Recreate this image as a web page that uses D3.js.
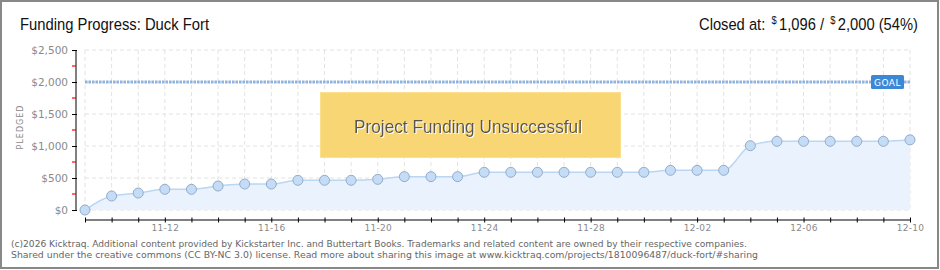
<!DOCTYPE html>
<html>
<head>
<meta charset="utf-8">
<script src="https://cdn.jsdelivr.net/npm/d3@7"></script>
<style>
  body { margin: 0; background: #fff; }
  svg { display: block; }
</style>
</head>
<body>
<div id="chart"></div>
<script>
// funding data, one point per day
const days = ['11-09','11-10','11-11','11-12','11-13','11-14','11-15','11-16',
  '11-17','11-18','11-19','11-20','11-21','11-22','11-23','11-24','11-25','11-26',
  '11-27','11-28','11-29','11-30','12-01','12-02','12-03','12-04','12-05','12-06',
  '12-07','12-08','12-09','12-10'];
const pledged = [0, 219, 265, 323, 323, 375, 406, 406, 464, 464, 464, 479, 521, 521,
  521, 589, 589, 589, 589, 589, 589, 589, 620, 620, 620, 1005, 1073, 1073, 1073,
  1073, 1073, 1096];
const tickDays = ['11-12', '11-16', '11-20', '11-24', '11-28', '12-02', '12-06', '12-10'];
const yTicks = [0, 500, 1000, 1500, 2000, 2500];
const yMinorTicks = [250, 750, 1250, 1750, 2250];
const goal = 2000;
const closedAt = 1096;

const width = 940, height = 270;
const margin = {top: 50, right: 30, bottom: 60, left: 85};
const innerW = 910 - margin.left;
const innerH = 210 - margin.top;

const headFont = '"Liberation Sans", Arial, sans-serif';

const svg = d3.select('#chart').append('svg')
  .attr('width', width)
  .attr('height', height);

// outer frame
svg.append('rect')
  .attr('x', 1).attr('y', 1)
  .attr('width', 937).attr('height', 267)
  .attr('fill', 'none')
  .attr('stroke', '#888')
  .attr('stroke-width', 2);

// header
svg.append('text')
  .attr('x', 20).attr('y', 30)
  .attr('textLength', 189)
  .attr('lengthAdjust', 'spacingAndGlyphs')
  .style('font-family', headFont)
  .style('font-size', '16.5px')
  .attr('fill', '#111')
  .text('Funding Progress: Duck Fort');

// "Closed at: $1,096 / $2,000 (54%)" built piece by piece, small raised dollar signs,
// the whole group squeezed horizontally to match the narrow original font
const closedParts = [
  {t: 'Closed at:', size: 16.5, dy: 0, gap: 7},
  {t: '$', size: 10.5, dy: -6, gap: 2.5},
  {t: d3.format(',')(closedAt) + ' /', size: 16.5, dy: 0, gap: 7},
  {t: '$', size: 10.5, dy: -6, gap: 2.5},
  {t: d3.format(',')(goal) + ' (' + Math.floor(closedAt / goal * 100) + '%)', size: 16.5, dy: 0, gap: 0}
];
const closedG = svg.append('g');
let cx = 0;
closedParts.forEach(p => {
  const t = closedG.append('text')
    .attr('x', cx)
    .attr('y', 30 + p.dy)
    .style('font-family', headFont)
    .style('font-size', p.size + 'px')
    .attr('fill', '#111')
    .text(p.t);
  cx += t.node().getComputedTextLength() + p.gap;
});
const squeeze = 219 / cx;
closedG.attr('transform', `translate(699, 0) scale(${squeeze}, 1)`);

const g = svg.append('g')
  .attr('transform', `translate(${margin.left}, ${margin.top})`);

const x = d3.scalePoint().domain(days).range([0, innerW]);
const y = d3.scaleLinear().domain([0, 2500]).range([innerH, 0]);

// grid
g.append('g').selectAll('line')
  .data(days)
  .join('line')
  .attr('x1', d => x(d)).attr('x2', d => x(d))
  .attr('y1', 0).attr('y2', innerH)
  .attr('stroke', '#e2e2e2')
  .attr('stroke-dasharray', '4,3');

g.append('g').selectAll('line')
  .data(yTicks)
  .join('line')
  .attr('x1', 0).attr('x2', innerW)
  .attr('y1', d => y(d)).attr('y2', d => y(d))
  .attr('stroke', '#e2e2e2')
  .attr('stroke-dasharray', '4,3');

// goal line
g.append('line')
  .attr('x1', 0).attr('x2', innerW)
  .attr('y1', y(goal)).attr('y2', y(goal))
  .attr('stroke', '#8fb3dd')
  .attr('stroke-width', 3)
  .attr('stroke-dasharray', '2.5,1');

const goalLabel = g.append('g')
  .attr('transform', `translate(${innerW - 39}, ${y(goal) - 7})`);
goalLabel.append('rect')
  .attr('width', 33).attr('height', 14)
  .attr('rx', 1.5)
  .attr('fill', '#3d87d7');
goalLabel.append('text')
  .attr('x', 16.5).attr('y', 10.5)
  .attr('text-anchor', 'middle')
  .style('font-family', '"DejaVu Sans", sans-serif')
  .style('font-size', '9px')
  .style('letter-spacing', '0.5px')
  .attr('fill', '#fff')
  .text('GOAL');

// area + line
const series = days.map((d, i) => ({day: d, value: pledged[i]}));

g.append('path')
  .datum(series)
  .attr('fill', '#eaf3fd')
  .attr('d', d3.area()
    .x(d => x(d.day))
    .y0(innerH)
    .y1(d => y(d.value))
    .curve(d3.curveMonotoneX));

g.append('path')
  .datum(series)
  .attr('fill', 'none')
  .attr('stroke', '#b9d6f4')
  .attr('stroke-width', 1.5)
  .attr('d', d3.line()
    .x(d => x(d.day))
    .y(d => y(d.value))
    .curve(d3.curveMonotoneX));

g.append('g').selectAll('circle')
  .data(series)
  .join('circle')
  .attr('cx', d => x(d.day))
  .attr('cy', d => y(d.value))
  .attr('r', 5)
  .attr('fill', '#c4dcf6')
  .attr('stroke', '#93abc9')
  .attr('stroke-width', 1);

// y axis
const yAxis = g.append('g')
  .attr('transform', 'translate(-9, 0)')
  .call(d3.axisLeft(y).tickValues(yTicks)
    .tickFormat(d => '$' + d3.format(',')(d))
    .tickSize(4).tickPadding(4));
yAxis.select('.domain').attr('stroke', '#000').attr('d', `M0,${y(2500)}V${innerH}`);
yAxis.selectAll('.tick line').attr('stroke', '#000').attr('x2', -4).attr('x1', 1);
yAxis.selectAll('.tick text')
  .style('font-family', '"DejaVu Sans", sans-serif')
  .style('font-size', '10.5px')
  .attr('fill', '#8a8a8a');

yAxis.selectAll('.minor')
  .data(yMinorTicks)
  .join('line')
  .attr('class', 'minor')
  .attr('x1', -4).attr('x2', 0)
  .attr('y1', d => y(d)).attr('y2', d => y(d))
  .attr('stroke', '#ff0000')
  .attr('stroke-width', 1.2);

svg.append('text')
  .attr('transform', 'translate(23, 127) rotate(-90)')
  .attr('text-anchor', 'middle')
  .style('font-family', '"DejaVu Sans", sans-serif')
  .style('font-size', '8px')
  .style('letter-spacing', '1px')
  .attr('fill', '#8a8a8a')
  .text('PLEDGED');

// x axis
const xAxis = g.append('g')
  .attr('transform', `translate(0, ${innerH + 10})`)
  .call(d3.axisBottom(x).tickSize(0).tickFormat(d => tickDays.includes(d) ? d : ''));
xAxis.select('.domain').attr('stroke', '#000').attr('d', `M0,0H${innerW}`);
xAxis.selectAll('.tick line')
  .attr('stroke', '#000')
  .attr('y1', -2.5).attr('y2', 2.5);
xAxis.selectAll('.tick text')
  .attr('y', 5)
  .attr('dy', '0.71em')
  .style('font-family', '"DejaVu Sans", sans-serif')
  .style('font-size', '9px')
  .style('letter-spacing', '0.3px')
  .attr('fill', '#8a8a8a');

// unsuccessful banner
const banner = svg.append('g');
banner.append('rect')
  .attr('x', 320.5).attr('y', 92.5)
  .attr('width', 300).attr('height', 65)
  .attr('fill', '#f8d673')
  .attr('stroke', '#fbe18c');
// white shadow drawn as a filter so it stays one text
const defs = svg.append('defs');
const shadow = defs.append('filter').attr('id', 'shadow');
shadow.append('feDropShadow')
  .attr('dx', 1).attr('dy', 1)
  .attr('stdDeviation', 0)
  .attr('flood-color', '#fff');
banner.append('text')
  .attr('x', 354).attr('y', 133)
  .attr('textLength', 228)
  .attr('lengthAdjust', 'spacingAndGlyphs')
  .attr('filter', 'url(#shadow)')
  .style('font-family', headFont)
  .style('font-size', '18px')
  .attr('fill', '#555')
  .text('Project Funding Unsuccessful');

// footer
const footer = [
  {text: '(c)2026 Kicktraq. Additional content provided by Kickstarter Inc. and Buttertart Books. Trademarks and related content are owned by their respective companies.', y: 246.5, w: 736},
  {text: 'Shared under the creative commons (CC BY-NC 3.0) license. Read more about sharing this image at www.kicktraq.com/projects/1810096487/duck-fort/#sharing', y: 257.5, w: 747}
];
svg.selectAll('.footer')
  .data(footer)
  .join('text')
  .attr('class', 'footer')
  .attr('x', 11).attr('y', d => d.y)
  .attr('textLength', d => d.w)
  .attr('lengthAdjust', 'spacingAndGlyphs')
  .style('font-family', '"DejaVu Sans", sans-serif')
  .style('font-size', '9px')
  .attr('fill', '#666')
  .text(d => d.text);
</script>
</body>
</html>
